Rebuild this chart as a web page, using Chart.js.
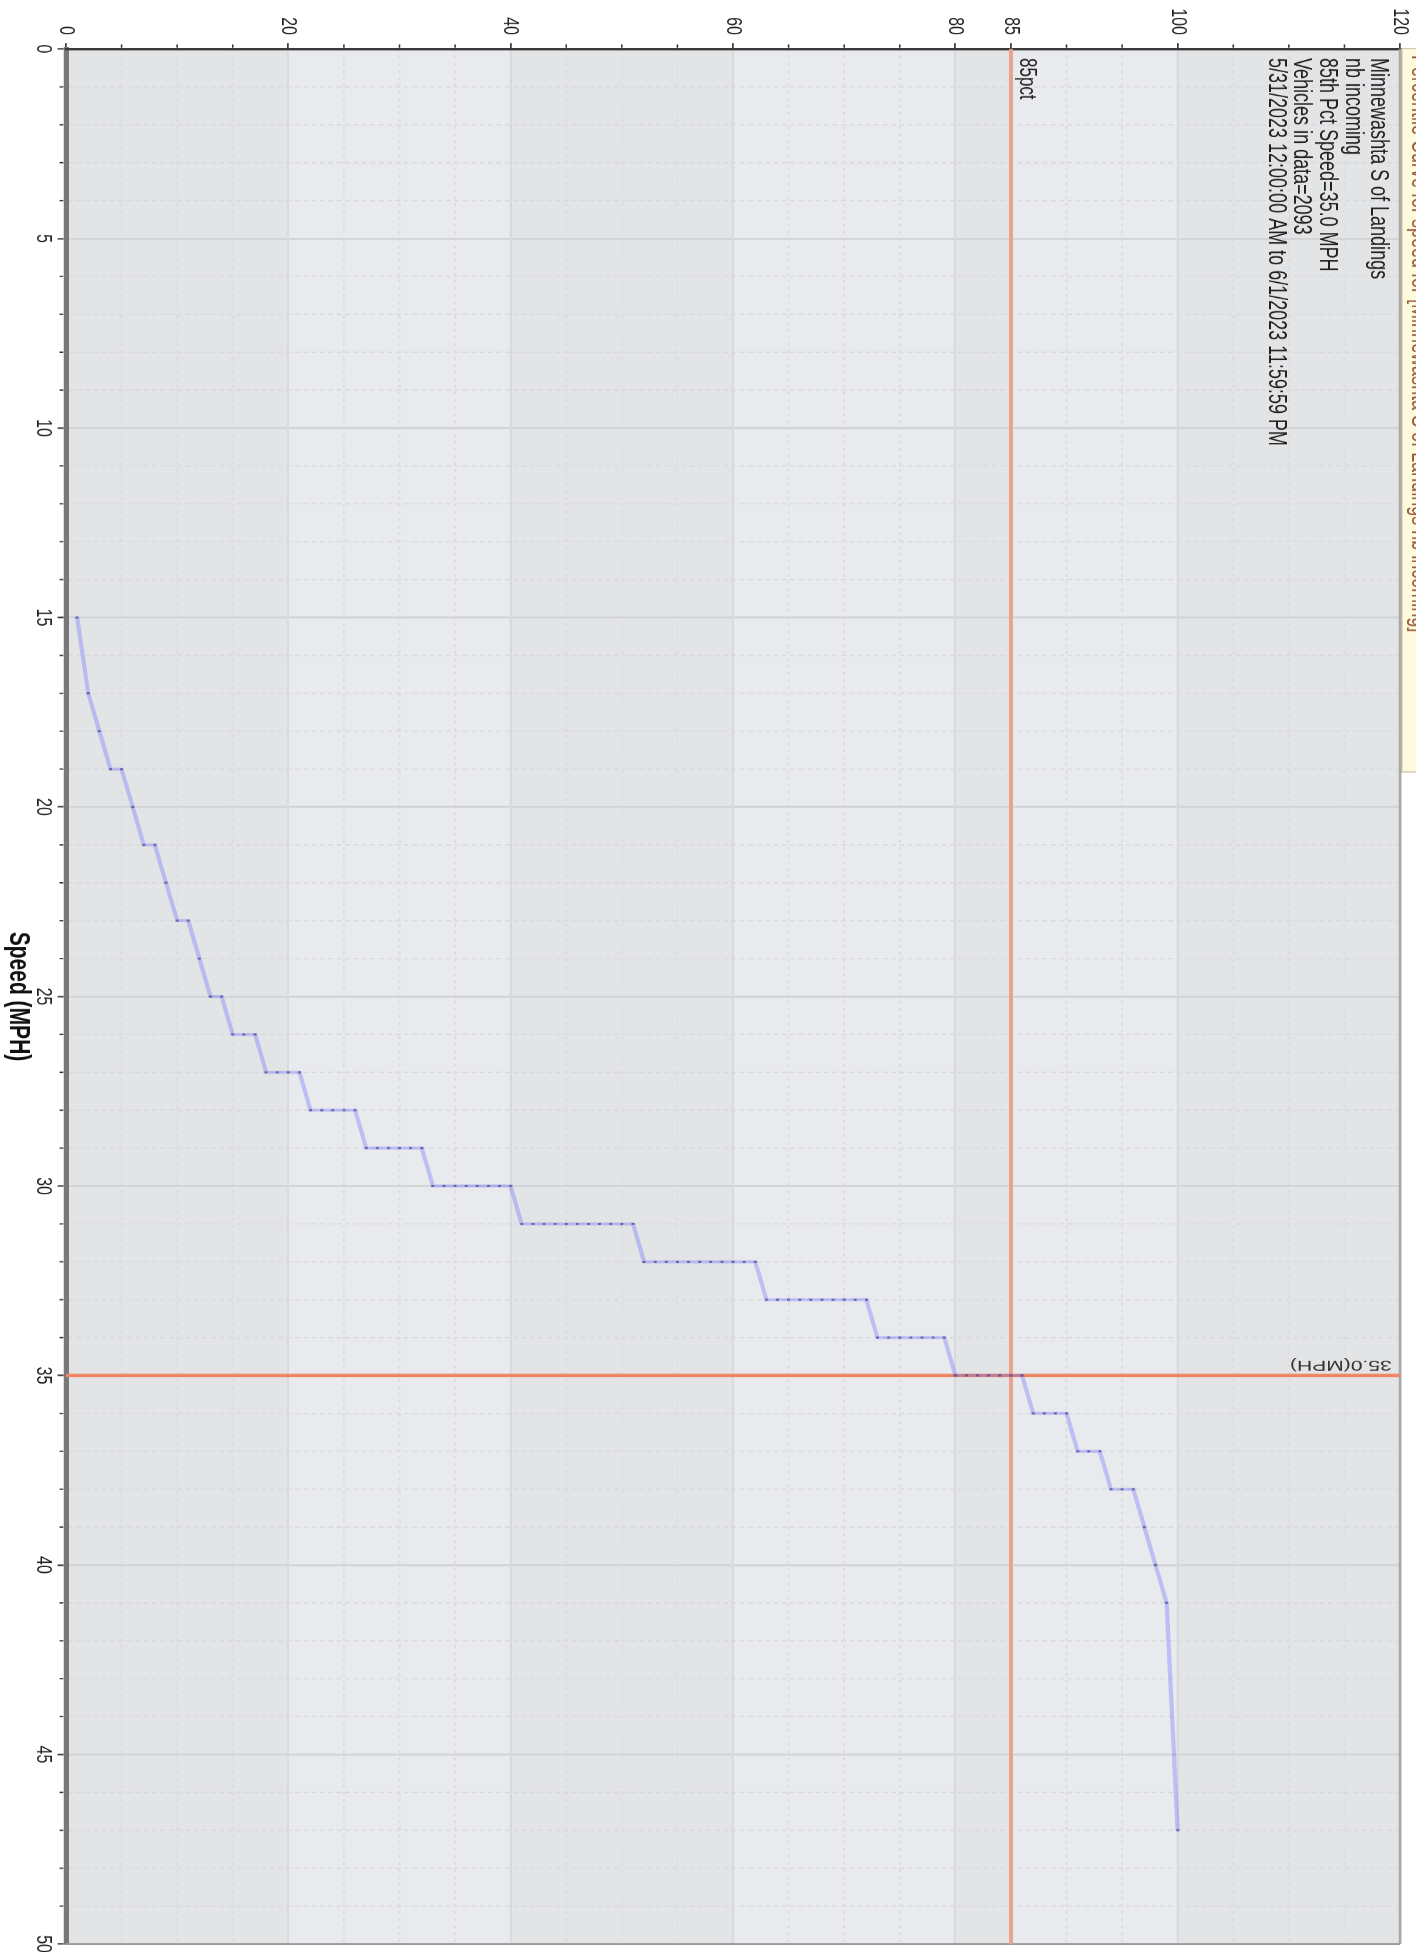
<!DOCTYPE html>
<html lang="en">
<head>
    <meta charset="UTF-8">
    <title>Percentile Curve for speed</title>
    <script src="https://cdn.jsdelivr.net/npm/chart.js"></script>
    <style>
        html, body {
            margin: 0;
            width: 1416px;
            height: 1955px;
            overflow: hidden;
            background-color: #ffffff;
        }
        /* the chart is drawn landscape, then turned a quarter turn clockwise
           and stretched like the source picture */
        .wrap {
            position: absolute;
            left: 0;
            top: 0;
            width: 1955px;
            height: 1012px;
            transform-origin: 0 0;
            transform: translate(1416px, 0) rotate(90deg) scale(1, 1.39921);
        }
    </style>
</head>
<body>
    <div class="wrap">
        <canvas id="speedChart" width="1955" height="1012"></canvas>
    </div>

    <script>
        const percentiles = [
            1, 2, 3, 4, 5, 6, 7, 8, 9, 10, 11, 12, 13, 14, 15, 16, 17, 18, 19, 20,
            21, 22, 23, 24, 25, 26, 27, 28, 29, 30, 31, 32, 33, 34, 35, 36, 37, 38, 39, 40,
            41, 42, 43, 44, 45, 46, 47, 48, 49, 50, 51, 52, 53, 54, 55, 56, 57, 58, 59, 60,
            61, 62, 63, 64, 65, 66, 67, 68, 69, 70, 71, 72, 73, 74, 75, 76, 77, 78, 79, 80,
            81, 82, 83, 84, 85, 86, 87, 88, 89, 90, 91, 92, 93, 94, 95, 96, 97, 98, 99, 100
        ];
        const speeds = [
            15, 17, 18, 19, 19, 20, 21, 21, 22, 23, 23, 24, 25, 25, 26, 26, 26, 27, 27, 27,
            27, 28, 28, 28, 28, 28, 29, 29, 29, 29, 29, 29, 30, 30, 30, 30, 30, 30, 30, 30,
            31, 31, 31, 31, 31, 31, 31, 31, 31, 31, 31, 32, 32, 32, 32, 32, 32, 32, 32, 32,
            32, 32, 33, 33, 33, 33, 33, 33, 33, 33, 33, 33, 34, 34, 34, 34, 34, 34, 34, 35,
            35, 35, 35, 35, 35, 35, 36, 36, 36, 36, 37, 37, 37, 38, 38, 38, 39, 40, 41, 47
        ];
        const pctTicks = [0, 20, 40, 60, 80, 85, 100, 120];
        const refPct = 85;
        const refSpeed = 35;
        const refSpeedLabel = '35.0(MPH)';
        const refPctLabel = '85pct';
        const infoLines = [
            'Minnewashta S of Landings',
            'nb incoming',
            '85th Pct Speed=35.0 MPH',
            'Vehicles in data=2093',
            '5/31/2023 12:00:00 AM to 6/1/2023 11:59:59 PM'
        ];
        const chartTitle = 'Percentile Curve for speed for [Minnewashta S of Landings nb incoming]';

        const FONT = '"Liberation Sans", Arial, sans-serif';

        function line(ctx, x1, y1, x2, y2) {
            ctx.beginPath();
            ctx.moveTo(x1, y1);
            ctx.lineTo(x2, y2);
            ctx.stroke();
        }

        const decorations = {
            id: 'decorations',
            beforeDraw(chart) {
                const { ctx, chartArea: a, scales: { x, y } } = chart;
                ctx.save();
                // interlaced bands between the percent ticks
                for (let i = 0; i < pctTicks.length - 1; i++) {
                    const top = y.getPixelForValue(pctTicks[i + 1]);
                    const bot = y.getPixelForValue(pctTicks[i]);
                    ctx.fillStyle = i % 2 === 0 ? '#e3e4e6' : '#e9eaed';
                    ctx.fillRect(a.left, top, a.right - a.left, bot - top);
                }
                // minor speed grid, every 1 mph
                ctx.strokeStyle = '#d7d8db';
                ctx.lineWidth = 1.2;
                ctx.setLineDash([3.5, 2.5]);
                for (let v = 1; v < 50; v++) {
                    if (v % 5 === 0) continue;
                    const px = x.getPixelForValue(v);
                    line(ctx, px, a.top, px, a.bottom);
                }
                // minor percent grid, every 5
                ctx.strokeStyle = '#dbdcdf';
                ctx.lineWidth = 1.3;
                ctx.setLineDash([3, 4]);
                for (let v = 5; v < 120; v += 5) {
                    if (pctTicks.includes(v)) continue;
                    const py = y.getPixelForValue(v);
                    line(ctx, a.left, py, a.right, py);
                }
                ctx.restore();
            },
            beforeDatasetsDraw(chart) {
                const { ctx, chartArea: a, scales: { x, y } } = chart;
                ctx.save();
                // frame on the far sides
                ctx.strokeStyle = '#a9a9a9';
                ctx.lineWidth = 2;
                line(ctx, a.left, a.top, a.right, a.top);
                ctx.strokeStyle = '#9a9a9a';
                line(ctx, a.right, a.top, a.right, a.bottom);
                // minor tick marks
                ctx.strokeStyle = '#333';
                ctx.lineWidth = 1.3;
                for (let v = 1; v < 50; v++) {
                    if (v % 5 === 0) continue;
                    const px = x.getPixelForValue(v);
                    line(ctx, px, a.bottom + 1.9, px, a.bottom + 4.6);
                }
                ctx.lineWidth = 1.1;
                for (let v = 5; v < 120; v += 5) {
                    if (pctTicks.includes(v)) continue;
                    const py = y.getPixelForValue(v);
                    line(ctx, a.left - 1.3, py, a.left - 4.5, py);
                }
                // reference lines
                ctx.strokeStyle = '#eba38c';
                ctx.lineWidth = 2.8;
                const py = y.getPixelForValue(refPct);
                line(ctx, a.left, py, a.right, py);
                ctx.strokeStyle = '#ef8560';
                ctx.lineWidth = 3.5;
                const px = x.getPixelForValue(refSpeed);
                line(ctx, px, a.top, px, a.bottom);
                ctx.restore();
            },
            afterDraw(chart) {
                const { ctx, chartArea: a, scales: { x, y } } = chart;
                ctx.save();
                ctx.fillStyle = '#222';
                ctx.textAlign = 'left';
                ctx.textBaseline = 'alphabetic';

                ctx.font = '17px ' + FONT;
                ctx.fillText(refPctLabel, x.getPixelForValue(0) + 9, y.getPixelForValue(refPct) - 6.5);

                ctx.font = '18px ' + FONT;
                infoLines.forEach((t, i) => {
                    ctx.fillText(t, a.left + 9, a.top + 20.6 + i * 18.3);
                });

                // title box, cut by the edge of the picture
                const boxLeft = a.left - 1;
                ctx.fillStyle = '#fefbdc';
                ctx.fillRect(boxLeft, 0, 772 - boxLeft, a.top - 1.2);
                ctx.strokeStyle = '#bdb69c';
                ctx.lineWidth = 1;
                ctx.strokeRect(boxLeft + 0.5, -1, 771.5 - boxLeft, a.top - 0.2);
                ctx.fillStyle = '#9a5a44';
                ctx.font = '18px ' + FONT;
                ctx.fillText(chartTitle, 55, 3.2);

                ctx.fillStyle = '#333';
                ctx.font = '15px ' + FONT;
                ctx.translate(x.getPixelForValue(refSpeed) - 14.5, y.getPixelForValue(120) + 6);
                ctx.rotate(Math.PI / 2);
                ctx.fillText(refSpeedLabel, 0, 0);
                ctx.restore();
            }
        };

        const ctx = document.getElementById('speedChart').getContext('2d');
        new Chart(ctx, {
            type: 'scatter',
            data: {
                datasets: [{
                    label: 'Speed',
                    data: percentiles.map((p, i) => ({ x: speeds[i], y: p })),
                    showLine: true,
                    borderColor: 'rgba(100, 100, 255, 0.33)',
                    borderWidth: 3,
                    pointStyle: 'rect',
                    pointRadius: 1.5,
                    pointBorderWidth: 0,
                    pointBackgroundColor: 'rgba(60, 60, 140, 0.65)'
                }]
            },
            options: {
                responsive: false,
                devicePixelRatio: 1.4,
                animation: false,
                layout: { padding: { top: 11.4, right: 11, left: 0, bottom: 0 } },
                plugins: {
                    legend: { display: false },
                    tooltip: { enabled: false }
                },
                scales: {
                    x: {
                        type: 'linear',
                        position: 'bottom',
                        min: 0,
                        max: 50,
                        afterFit: s => {
                            s.height = 47.7;
                            s.paddingLeft = 0;
                            s.paddingRight = 0;
                        },
                        ticks: {
                            stepSize: 5,
                            autoSkip: false,
                            maxRotation: 0,
                            padding: 1,
                            color: '#222',
                            font: { size: 16, family: FONT }
                        },
                        grid: {
                            color: '#d2d3d6',
                            lineWidth: 2,
                            tickLength: 6,
                            tickColor: '#333',
                            tickWidth: 1.5
                        },
                        border: { color: '#787878', width: 3.8 },
                        title: {
                            display: true,
                            text: 'Speed (MPH)',
                            color: '#111',
                            font: { size: 21, weight: 'bold', family: FONT, lineHeight: 1.2 },
                            padding: { top: 0, bottom: 1 }
                        }
                    },
                    y: {
                        type: 'linear',
                        min: 0,
                        max: 120,
                        afterFit: s => {
                            s.width = 49;
                            s.paddingTop = 0;
                            s.paddingBottom = 0;
                        },
                        afterBuildTicks: s => { s.ticks = pctTicks.map(v => ({ value: v })); },
                        ticks: {
                            padding: 8,
                            color: '#222',
                            font: { size: 16, family: FONT }
                        },
                        grid: {
                            color: '#d9dadd',
                            lineWidth: 1.6,
                            tickLength: 6,
                            tickColor: '#333',
                            tickWidth: 1.2
                        },
                        border: { color: '#3a3a3a', width: 2.5 }
                    }
                }
            },
            plugins: [decorations]
        });
    </script>
</body>
</html>
